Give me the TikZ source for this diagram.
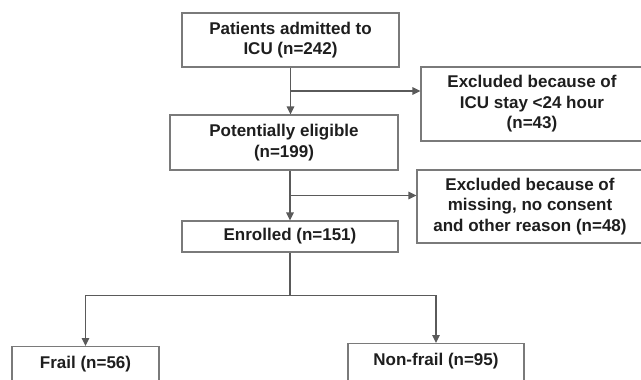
\documentclass[tikz,border=0pt]{standalone}
\usepackage{fontspec}
\setmainfont{Liberation Sans}
\usetikzlibrary{arrows.meta, calc}
\definecolor{boxline}{HTML}{7A7A7A}
\definecolor{arrowline}{HTML}{5A5A5A}
\definecolor{boxtext}{HTML}{1E1E1E}
\tikzset{>={Stealth[length=8pt,width=7.5pt,inset=0pt]}}
\tikzset{
  flowbox/.style={draw=boxline, line width=1.3pt, fill=white, text=boxtext, align=center,
    inner sep=0pt, font=\fontsize{17}{20.5}\selectfont\bfseries},
  flowarrow/.style={draw=arrowline, line width=1.4pt}
}

\begin{document}
\begin{tikzpicture}[x=1pt, y=-1pt]
\useasboundingbox (0,0) rectangle (641,380);
% main column
\node[flowbox, minimum width=217pt, minimum height=54pt] (admitted) at (290.5,40) {Patients admitted to\\ICU (n=242)};
\node[flowbox, minimum width=228pt, minimum height=55pt] (eligible) at (284,142.5) {Potentially eligible\\(n=199)};
\node[flowbox, minimum width=216pt, minimum height=31pt] (enrolled) at (290,236.5) {Enrolled (n=151)};
% exclusions
\node[flowbox, minimum width=222pt, minimum height=74pt] (exclicu) at (532,104) {Excluded because of\\ICU stay <24 hour\\(n=43)};
\node[flowbox, minimum width=226pt, minimum height=73pt] (exclother) at (530,206.5) {Excluded because of\\missing, no consent\\and other reason (n=48)};
% groups
\node[flowbox, anchor=north, minimum width=147pt, text height=18pt, text depth=40pt, inner ysep=4pt] (frail) at (85.5,346) {Frail (n=56)};
\node[flowbox, anchor=north, minimum width=176pt, text height=18pt, text depth=40pt, inner ysep=4pt] (nonfrail) at (436,343) {Non-frail (n=95)};

\draw[flowarrow, ->] (admitted.south) -- (admitted.south |- eligible.north);
\coordinate (branchicu) at ($(admitted.south)!0.5!(admitted.south |- eligible.north)$);
\draw[flowarrow, ->] (branchicu) -- (branchicu -| exclicu.west);
\draw[flowarrow, ->] (eligible.south -| enrolled.north) -- (enrolled.north);
\coordinate (branchother) at ($(eligible.south -| enrolled.north)!0.5!(enrolled.north)$);
\draw[flowarrow, ->] (branchother) -- (branchother -| exclother.west);
\draw[flowarrow] (enrolled.south) -- ++(0,43) coordinate (split);
\draw[flowarrow, ->] (split) -| (frail.north);
\draw[flowarrow, ->] (split) -| (nonfrail.north);
\end{tikzpicture}
\end{document}
